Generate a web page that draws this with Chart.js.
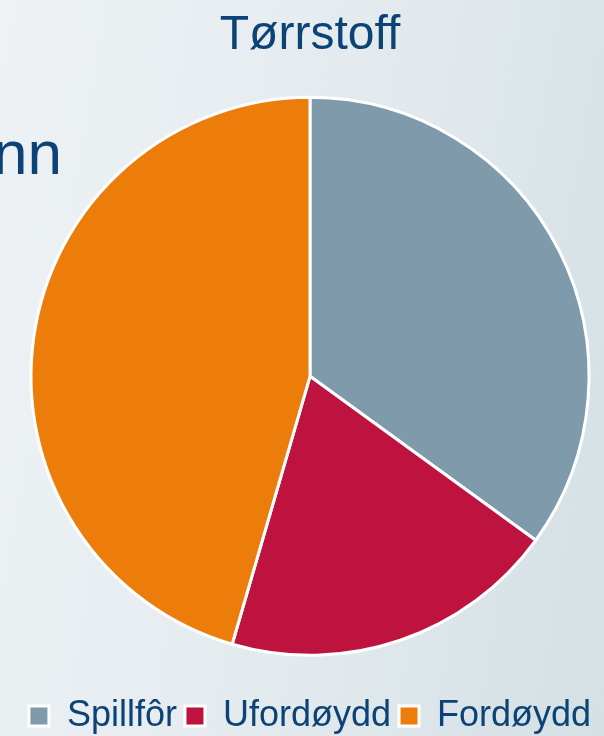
<!DOCTYPE html>
<html>
<head>
<meta charset="utf-8">
<script src="https://cdn.jsdelivr.net/npm/chart.js@4.4.0/dist/chart.umd.min.js"></script>
<style>
    html, body { margin: 0; padding: 0; }
    body {
        width: 604px;
        height: 736px;
        overflow: hidden;
        background: linear-gradient(100deg, #eef2f5 0%, #e3eaee 55%, #d4e0e4 100%);
    }
    #myChart { display: block; }
</style>
</head>
<body>
<canvas id="myChart" width="604" height="736"></canvas>
<script>
let kategorier = ["Spillfôr", "Ufordøydd", "Fordøydd"];
let andeler = [35, 19.5, 45.5];
let farger = ["#7f9bab", "#be123f", "#ed7d0a"];

let tekstfarge = "#0c4377";

// bit av tekst fra lysbildet bak diagrammet
let bakgrunnsTekst = {
    id: "bakgrunnsTekst",
    beforeDraw(chart) {
        let ctx = chart.ctx;
        ctx.save();
        ctx.font = "62px 'Liberation Sans', Arial, sans-serif";
        ctx.fillStyle = tekstfarge;
        ctx.textAlign = "right";
        ctx.textBaseline = "alphabetic";
        ctx.fillText("nn", 62, 174);
        ctx.restore();
    }
};

document.addEventListener("DOMContentLoaded", tegnDiagram);

function tegnDiagram() {
    var canvas = document.getElementById("myChart");
    if (!canvas) return;

    new Chart(canvas, {
        type: "pie",
        data: {
            labels: kategorier,
            datasets: [{
                data: andeler,
                backgroundColor: farger,
                borderColor: "#ffffff",
                borderWidth: 3
            }]
        },
        options: {
            responsive: false,
            animation: false,
            radius: 279,
            layout: {
                padding: { left: 16, right: 0, top: 0, bottom: -8 }
            },
            plugins: {
                title: {
                    display: true,
                    text: "Tørrstoff",
                    color: tekstfarge,
                    font: { family: "'Liberation Sans', Arial, sans-serif", size: 48, weight: "normal" },
                    padding: { top: 7, bottom: -2 }
                },
                legend: {
                    position: "bottom",
                    labels: {
                        color: tekstfarge,
                        font: { family: "'Liberation Sans', Arial, sans-serif", size: 36 },
                        boxWidth: 20,
                        boxHeight: 20,
                        padding: 8
                    }
                },
                tooltip: { enabled: false }
            }
        },
        plugins: [bakgrunnsTekst]
    });
}
</script>
</body>
</html>
